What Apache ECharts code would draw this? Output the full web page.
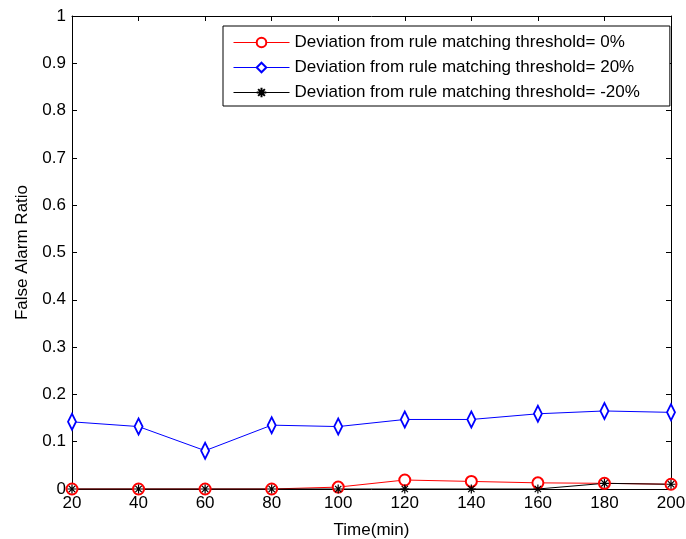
<!DOCTYPE html>
<html>
<head>
<meta charset="utf-8">
<script src="https://cdn.jsdelivr.net/npm/echarts@6/dist/echarts.min.js"></script>
<style>
  html, body { margin: 0; padding: 0; background: #fff; }
  #chart { width: 686px; height: 539px; }
</style>
</head>
<body>
<div id="chart"></div>
<script>
// data
var times = [20, 40, 60, 80, 100, 120, 140, 160, 180, 200];
var dev0 = [0, 0, 0, 0, 0.004, 0.019, 0.016, 0.013, 0.012, 0.010];
var dev20 = [0.142, 0.132, 0.081, 0.135, 0.132, 0.147, 0.147, 0.159, 0.165, 0.162];
var devMinus20 = [0, 0, 0, 0, 0, 0, 0, 0, 0.012, 0.010];
var names = [
	'Deviation from rule matching threshold= 0%',
	'Deviation from rule matching threshold= 20%',
	'Deviation from rule matching threshold= -20%'
];

var font = 'Liberation Sans, Arial, sans-serif';
var fs = 17;
var star = 'path://M0,-5L0,5M-5,0L5,0M-3.5,-3.5L3.5,3.5M-3.5,3.5L3.5,-3.5';

function pairs(vals) {
	return times.map(function (t, i) { return [t, vals[i]]; });
}

var myChart = echarts.init(document.getElementById('chart'));

var axisLine = { show: true, onZero: false, lineStyle: { color: '#000', width: 1 } };
var tick = { show: true, inside: true, length: 5, lineStyle: { color: '#000' } };
var textStyle = { fontFamily: font, fontSize: fs, color: '#000' };

var option = {
	animation: false,
	backgroundColor: '#fff',
	grid: { left: 72, right: 15, top: 16, bottom: 50, containLabel: false, outerBoundsMode: 'none' },
	legend: {
		orient: 'vertical',
		left: 223,
		top: 26,
		padding: [8, 30, 5, 10],
		itemGap: 8,
		itemWidth: 56,
		itemHeight: 12,
		backgroundColor: '#fff',
		borderColor: '#000',
		borderWidth: 1,
		borderRadius: 0,
		lineStyle: { width: 1 },
		textStyle: textStyle,
		data: names
	},
	xAxis: [{
		type: 'value',
		min: 20, max: 200, interval: 20,
		name: 'Time(min)',
		nameLocation: 'middle',
		nameGap: 33,
		nameTextStyle: textStyle,
		axisLine: axisLine,
		axisTick: tick,
		axisLabel: { fontFamily: font, fontSize: fs, color: '#000', margin: 6 },
		splitLine: { show: false }
	}, {
		type: 'value', position: 'top',
		min: 20, max: 200, interval: 20,
		axisLine: axisLine, axisTick: tick,
		axisLabel: { show: false }, splitLine: { show: false }
	}],
	yAxis: [{
		type: 'value',
		min: 0, max: 1, interval: 0.1,
		name: 'False Alarm Ratio',
		nameLocation: 'middle',
		nameGap: 41,
		nameTextStyle: textStyle,
		axisLine: axisLine,
		axisTick: tick,
		axisLabel: { fontFamily: font, fontSize: fs, color: '#000', margin: 6 },
		splitLine: { show: false }
	}, {
		type: 'value', position: 'right',
		min: 0, max: 1, interval: 0.1,
		axisLine: axisLine, axisTick: tick,
		axisLabel: { show: false }, splitLine: { show: false }
	}],
	series: [
		{
			name: names[0], type: 'line', data: pairs(dev0),
			symbol: 'emptyCircle', symbolSize: 11,
			color: '#ff0000',
			lineStyle: { color: '#ff0000', width: 1 },
			itemStyle: { color: '#ff0000', borderColor: '#ff0000', borderWidth: 1 }
		},
		{
			name: names[1], type: 'line', data: pairs(dev20),
			symbol: 'emptyDiamond', symbolSize: [8, 16],
			color: '#0000ff',
			lineStyle: { color: '#0000ff', width: 1 },
			itemStyle: { color: '#0000ff', borderColor: '#0000ff', borderWidth: 1 }
		},
		{
			name: names[2], type: 'line', data: pairs(devMinus20),
			symbol: star, symbolSize: 9,
			color: '#000',
			lineStyle: { color: '#000', width: 1 },
			itemStyle: { color: '#000', borderColor: '#000', borderWidth: 1.2 }
		}
	]
};

myChart.setOption(option);
</script>
</body>
</html>
